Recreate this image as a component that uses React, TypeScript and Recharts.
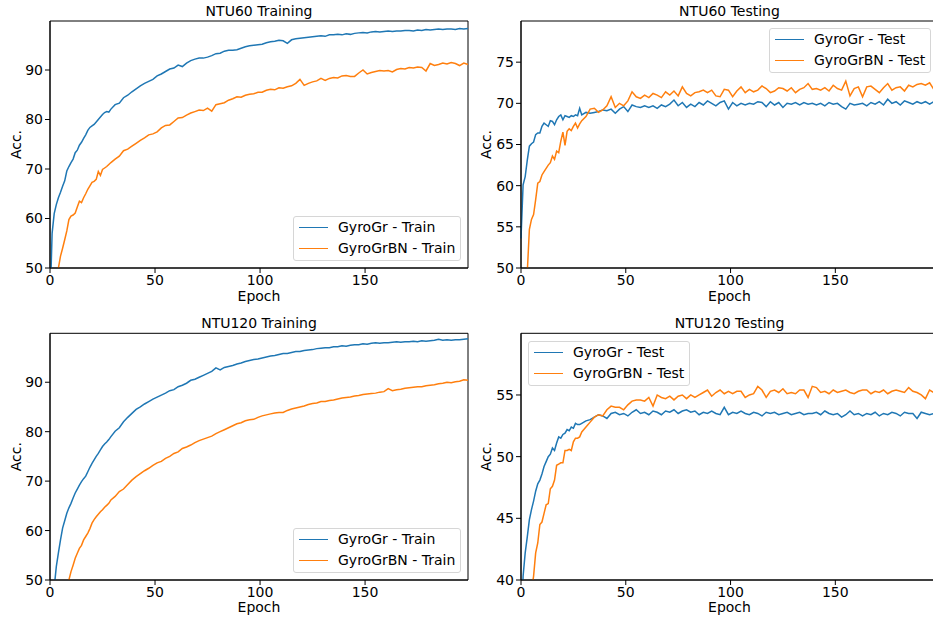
import { LineChart, Line, XAxis, YAxis, ReferenceArea, Legend } from "recharts";

const BLUE = "#1f77b4";
const ORANGE = "#ff7f0e";
const FONT = "DejaVu Sans";
const FS = 14;

// epochs: every epoch up to 29, then every other epoch
const epochs = [
  0, 1, 2, 3, 4, 5, 6, 7, 8, 9, 10, 11, 12, 13, 14, 15, 16, 17, 18, 19,
  20, 21, 22, 23, 24, 25, 26, 27, 28, 29,
  31, 33, 35, 37, 39, 41, 43, 45, 47, 49, 51, 53, 55, 57, 59, 61, 63, 65, 67, 69,
  71, 73, 75, 77, 79, 81, 83, 85, 87, 89, 91, 93, 95, 97, 99, 101, 103, 105, 107, 109,
  111, 113, 115, 117, 119, 121, 123, 125, 127, 129, 131, 133, 135, 137, 139, 141, 143, 145, 147, 149,
  151, 153, 155, 157, 159, 161, 163, 165, 167, 169, 171, 173, 175, 177, 179, 181, 183, 185, 187, 189,
  191, 193, 195, 197, 199,
];

const xTicks = [0, 50, 100, 150];
const trainTicks = [50, 60, 70, 80, 90];
const ntu60TestTicks = [50, 55, 60, 65, 70, 75];
const ntu120TestTicks = [40, 45, 50, 55];

const ntu60TrainGyroGr = [
  42, 57.0, 61.0, 62.8, 64.2, 65.3, 66.5, 67.6, 69.6, 70.5,
  71.3, 72.0, 73.3, 73.8, 74.8, 75.4, 76.2, 76.9, 77.8, 78.4,
  78.7, 79.0, 79.5, 80.0, 80.5, 81.0, 81.4, 81.6, 81.5, 82.1,
  83.0, 83.3, 84.4, 84.9, 85.6, 86.2, 86.8, 87.3, 87.7, 88.1,
  88.8, 89.2, 89.7, 90.2, 90.4, 91.0, 90.7, 91.4, 91.9, 92.2,
  92.4, 92.4, 92.6, 92.9, 93.3, 93.4, 93.8, 94.0, 94.0, 94.1,
  94.4, 94.7, 94.9, 95.0, 95.1, 95.2, 95.5, 95.7, 95.8, 96.0,
  95.9, 95.4, 96.1, 96.3, 96.4, 96.5, 96.6, 96.7, 96.8, 96.9,
  96.8, 97.1, 97.1, 97.2, 97.1, 97.3, 97.2, 97.4, 97.5, 97.6,
  97.5, 97.7, 97.8, 97.7, 97.8, 97.9, 97.8, 97.9, 97.9, 98.0,
  98.0, 97.9, 98.1, 98.0, 98.2, 98.1, 98.2, 98.3, 98.2, 98.3,
  98.3, 98.2, 98.4, 98.3, 98.4,
];
const ntu60TrainGyroGrBN = [
  30, 35, 40, 45, 50.0, 52.4, 54.0, 55.7, 57.5, 59.8,
  60.5, 60.7, 61.1, 62.3, 63.5, 63.2, 64.2, 65.0, 65.9, 66.6,
  67.3, 67.5, 67.9, 69.5, 68.7, 69.9, 70.2, 70.5, 70.9, 71.3,
  72.0, 72.6, 73.7, 74.0, 74.6, 75.2, 75.8, 76.3, 76.9, 77.1,
  77.5, 78.3, 78.8, 78.9, 79.6, 80.3, 80.4, 80.9, 81.3, 81.6,
  81.9, 81.8, 82.3, 81.7, 83.0, 83.2, 83.4, 83.9, 84.2, 84.6,
  84.5, 84.9, 85.1, 85.2, 85.5, 85.5, 85.9, 86.1, 86.0, 86.4,
  86.3, 86.6, 86.8, 87.3, 88.1, 86.9, 87.3, 87.6, 87.8, 88.3,
  87.9, 88.3, 88.5, 88.4, 88.8, 88.9, 88.7, 88.7, 89.4, 90.0,
  89.2, 89.5, 89.7, 89.9, 89.8, 89.9, 89.6, 90.1, 90.3, 90.2,
  90.5, 90.4, 90.6, 90.5, 89.8, 91.3, 90.9, 91.1, 91.4, 91.2,
  91.5, 91.3, 90.9, 91.4, 91.1,
];

const ntu60TestGyroGr = [
  53.6, 60.1, 61.1, 63.1, 64.8, 65.1, 65.3, 66.2, 66.4, 66.4,
  67.2, 67.6, 67.4, 67.2, 67.9, 67.8, 67.4, 68.0, 68.4, 68.6,
  68.0, 68.5, 68.4, 68.3, 68.5, 68.4, 68.6, 68.5, 69.4, 68.6,
  68.9, 68.8, 68.9, 69.0, 69.2, 69.1, 69.3, 68.8, 69.3, 69.6,
  69.0, 69.8, 69.6, 69.5, 69.7, 69.5, 69.7, 69.4, 69.8, 69.6,
  69.9, 70.4, 69.7, 70.1, 69.5, 69.9, 69.6, 70.1, 69.8, 70.3,
  70.0, 69.7, 70.1, 70.3, 69.3, 70.1, 69.7, 70.0, 69.8, 70.0,
  69.9, 70.2, 70.1, 69.6, 70.2, 69.8, 70.1, 69.5, 70.0, 69.9,
  70.1, 69.8, 70.1, 69.9, 70.0, 69.8, 70.0, 69.7, 70.1, 69.9,
  70.0, 69.6, 69.3, 70.0, 69.8, 69.9, 70.0, 69.7, 70.1, 69.9,
  70.2, 69.8, 70.5, 70.0, 70.2, 69.8, 70.3, 70.1, 69.9, 70.2,
  70.0, 70.2, 69.9, 70.2, 70.0,
];
const ntu60TestGyroGrBN = [
  40, 43, 46, 49.5, 54.7, 55.9, 56.5, 58.3, 60.3, 60.5,
  61.3, 61.7, 62.1, 62.5, 62.8, 63.6, 63.2, 64.2, 64.0, 65.4,
  66.5, 64.9, 66.6, 66.9, 66.7, 67.2, 67.6, 67.0, 67.5, 67.9,
  68.4, 69.3, 69.4, 68.9, 69.2, 69.7, 70.8, 69.5, 70.0, 69.7,
  70.3, 71.4, 70.8, 70.6, 71.0, 70.7, 71.2, 71.0, 70.7, 71.4,
  71.0, 71.5, 70.9, 72.0, 71.2, 70.9, 71.3, 71.4, 71.6, 71.3,
  71.6, 70.9, 70.8, 71.7, 71.6, 70.8, 71.5, 72.0, 71.3, 71.7,
  71.4, 71.6, 72.1, 71.8, 71.3, 71.5, 71.9, 71.8, 71.5, 71.9,
  71.3, 71.7, 71.9, 72.4, 71.7, 71.8, 71.6, 71.9, 71.5, 72.2,
  71.8, 71.6, 72.7, 70.9, 71.8, 72.0, 70.8, 72.0, 72.1, 71.7,
  71.3, 71.9, 72.4, 71.6, 71.9, 72.0, 71.5, 72.2, 72.0, 72.3,
  72.4, 72.2, 72.5, 71.7, 72.4,
];

const ntu120TrainGyroGr = [
  35, 40, 48.5, 52.7, 55.5, 58.1, 60.5, 62.0, 63.5, 64.6,
  65.5, 66.6, 67.6, 68.4, 69.2, 69.9, 70.5, 71.0, 71.9, 72.8,
  73.6, 74.3, 75.0, 75.6, 76.3, 77.0, 77.5, 77.9, 78.4, 79.0,
  80.1, 80.8, 82.0, 82.9, 83.7, 84.5, 85.0, 85.6, 86.1, 86.6,
  87.0, 87.4, 87.8, 88.3, 88.5, 89.1, 89.4, 89.8, 90.4, 90.6,
  91.0, 91.4, 91.8, 92.2, 92.9, 92.5, 93.0, 93.2, 93.4, 93.7,
  93.9, 94.2, 94.4, 94.6, 94.7, 94.9, 95.1, 95.3, 95.4, 95.6,
  95.8, 95.8, 96.0, 96.2, 96.2, 96.4, 96.5, 96.6, 96.8, 96.9,
  97.0, 97.0, 97.2, 97.2, 97.4, 97.3, 97.5, 97.6, 97.6, 97.8,
  97.7, 97.9, 98.0, 97.9, 98.0, 98.0, 98.1, 98.2, 98.1, 98.2,
  98.2, 98.3, 98.2, 98.4, 98.3, 98.4, 98.5, 98.7, 98.5, 98.6,
  98.5, 98.6, 98.6, 98.7, 98.8,
];
const ntu120TrainGyroGrBN = [
  30, 33, 36, 39, 41, 43, 45, 46.5, 48.2, 50.0,
  51.7, 53.0, 54.4, 55.4, 56.4, 57.0, 58.1, 58.8, 59.5, 60.4,
  61.5, 62.2, 62.8, 63.3, 63.8, 64.2, 64.7, 65.1, 65.5, 66.2,
  66.9, 67.9, 68.4, 69.3, 70.2, 70.9, 71.5, 72.1, 72.6, 73.2,
  73.7, 74.0, 74.6, 75.0, 75.6, 75.9, 76.6, 76.9, 77.3, 77.8,
  78.2, 78.5, 78.8, 79.1, 79.6, 80.0, 80.4, 80.8, 81.2, 81.6,
  81.8, 82.2, 82.4, 82.5, 82.9, 83.2, 83.4, 83.6, 83.8, 83.9,
  83.9, 84.3, 84.6, 84.8, 85.0, 85.2, 85.5, 85.7, 85.8, 86.1,
  86.1, 86.3, 86.4, 86.6, 86.8, 86.9, 87.0, 87.2, 87.3, 87.5,
  87.6, 87.7, 87.8, 88.0, 88.1, 88.7, 88.3, 88.5, 88.6, 88.8,
  88.9, 89.0, 89.1, 89.1, 89.3, 89.4, 89.5, 89.7, 89.8, 90.0,
  89.9, 90.1, 90.2, 90.5, 90.4,
];

const ntu120TestGyroGr = [
  36, 40.3, 42.2, 43.5, 44.9, 45.7, 46.4, 47.2, 47.8, 48.1,
  48.6, 49.2, 49.6, 50.0, 50.2, 50.7, 50.5, 51.1, 51.6, 51.5,
  51.8, 51.9, 52.2, 52.1, 52.4, 52.3, 52.7, 52.6, 52.6, 52.7,
  52.9, 53.0, 53.2, 53.4, 53.3, 53.1, 53.5, 53.6, 53.4, 53.5,
  53.3, 53.6, 53.8, 53.5, 53.6, 53.4, 53.7, 53.6, 53.4, 53.7,
  53.6, 53.8, 53.5, 53.7, 53.8, 53.6, 53.7, 53.4, 53.6, 53.5,
  53.7, 53.5, 53.4, 54.0, 53.4, 53.6, 53.5, 53.7, 53.5, 53.4,
  53.6, 53.5, 53.3, 53.6, 53.5, 53.6, 53.4, 53.5, 53.6, 53.4,
  53.5, 53.6, 53.4, 53.5, 53.5, 53.6, 53.4, 53.7, 53.5, 53.4,
  53.5, 53.2, 53.4, 53.7, 53.4, 53.5, 53.3, 53.5, 53.4, 53.6,
  53.3, 53.5, 53.4, 53.6, 53.5, 53.3, 53.6, 53.5, 53.5, 53.1,
  53.6, 53.5, 53.4, 53.5, 53.5,
];
const ntu120TestGyroGrBN = [
  30, 32, 34, 36, 38, 39.2, 40.3, 42.2, 43.0, 44.5,
  44.7, 45.4, 46.1, 46.2, 47.4, 47.6, 48.1, 49.3, 49.4, 49.5,
  49.5, 50.5, 50.5, 50.6, 50.5, 51.2, 51.5, 51.5, 51.6, 52.0,
  52.4, 52.8, 53.2, 53.4, 53.3, 53.8, 54.1, 54.0, 54.0, 53.8,
  54.2, 54.5, 54.6, 54.6, 54.5, 54.8, 54.1, 55.0, 54.8, 54.7,
  54.9, 54.6, 54.9, 55.0, 54.7, 55.0, 54.8, 55.0, 55.2, 55.4,
  54.9, 55.2, 55.4, 55.1, 55.3, 55.1, 55.3, 55.3, 54.8, 55.0,
  55.1, 55.7, 55.4, 54.8, 55.3, 55.4, 55.2, 55.5, 55.1, 55.2,
  55.1, 55.4, 55.4, 54.8, 55.7, 55.6, 55.2, 55.3, 55.1, 55.4,
  55.2, 55.3, 55.4, 55.2, 55.1, 55.3, 55.4, 55.4, 55.1, 55.3,
  55.2, 55.4, 55.1, 55.3, 55.4, 55.3, 55.2, 55.6, 55.3, 55.2,
  55.0, 54.7, 55.4, 55.2, 55.1,
];

const buildRows = (blue: number[], orange: number[]) =>
  epochs.map((epoch, i) => ({ epoch, blue: blue[i], orange: orange[i] }));

const tickStyle = { fill: "#000", fontSize: FS, fontFamily: FONT };

function MplLegend({ payload }: any) {
  return (
    <div
      style={{
        border: "1px solid #d6d6d6",
        borderRadius: 3,
        background: "rgba(255,255,255,0.8)",
        padding: "0 5px 2px 5px",
        fontFamily: FONT,
        fontSize: FS,
        color: "#000",
        whiteSpace: "nowrap",
      }}
    >
      {(payload || []).map((p: any) => (
        <div
          key={p.value}
          style={{ display: "flex", alignItems: "center", height: 20.7, lineHeight: "20.7px" }}
        >
          <span style={{ display: "inline-block", width: 29, borderTop: `1.5px solid ${p.color}`, marginRight: 10 }} />
          <span>{p.value}</span>
        </div>
      ))}
    </div>
  );
}

type PanelProps = {
  left: number;
  top: number;
  title: string;
  titleBaseline: number;
  marginTop: number;
  xAxisHeight: number;
  epochOffset: number;
  yWidth: number;
  plotWidth: number;
  yDomain: [number, number];
  yTicks: number[];
  blue: number[];
  orange: number[];
  names: [string, string];
  legendLeft: number;
  legendTop: number;
};

function Panel(p: PanelProps) {
  const W = 470;
  const H = 310;
  const rows = buildRows(p.blue, p.orange);
  const right = W - p.yWidth - p.plotWidth;
  return (
    <div style={{ position: "absolute", left: p.left, top: p.top, width: W, height: H }}>
      <LineChart
        width={W}
        height={H}
        data={rows}
        margin={{ top: p.marginTop, right, bottom: 0, left: 0 }}
      >
        <XAxis
          dataKey="epoch"
          type="number"
          domain={[0, 199]}
          ticks={xTicks}
          interval={0}
          height={p.xAxisHeight}
          tickSize={5}
          tickMargin={2}
          tick={tickStyle}
          axisLine={{ stroke: "#000" }}
          tickLine={{ stroke: "#000" }}
          label={{
            value: "Epoch",
            position: "insideBottom",
            offset: p.epochOffset,
            fill: "#000",
            fontSize: FS,
            fontFamily: FONT,
          }}
        />
        <YAxis
          type="number"
          domain={p.yDomain}
          allowDataOverflow
          ticks={p.yTicks}
          interval={0}
          width={p.yWidth}
          tickSize={5}
          tickMargin={2}
          tick={tickStyle}
          axisLine={{ stroke: "#000" }}
          tickLine={{ stroke: "#000" }}
          label={{
            value: "Acc.",
            angle: -90,
            position: "insideLeft",
            offset: 15.7,
            fill: "#000",
            fontSize: FS,
            fontFamily: FONT,
            style: { textAnchor: "middle" },
          }}
        />
        <ReferenceArea
          x1={0}
          x2={199}
          y1={p.yDomain[0]}
          y2={p.yDomain[1]}
          fill="none"
          stroke="#000"
          strokeWidth={1}
          ifOverflow="visible"
        />
        <Line
          type="linear"
          dataKey="blue"
          name={p.names[0]}
          stroke={BLUE}
          strokeWidth={1.5}
          dot={false}
          isAnimationActive={false}
        />
        <Line
          type="linear"
          dataKey="orange"
          name={p.names[1]}
          stroke={ORANGE}
          strokeWidth={1.5}
          dot={false}
          isAnimationActive={false}
        />
        <Legend
          layout="vertical"
          align="center"
          verticalAlign="middle"
          content={<MplLegend />}
          wrapperStyle={{ left: p.legendLeft, top: p.legendTop, width: "auto" }}
        />
      </LineChart>
      <svg
        width={W}
        height={30}
        style={{ position: "absolute", left: 0, top: 0, pointerEvents: "none" }}
      >
        <text
          x={p.yWidth + p.plotWidth / 2}
          y={p.titleBaseline}
          textAnchor="middle"
          fontFamily={FONT}
          fontSize={FS}
          fill="#000"
        >
          {p.title}
        </text>
      </svg>
    </div>
  );
}

export default function App() {
  return (
    <div
      style={{
        position: "absolute",
        left: 0,
        top: 0,
        width: 933,
        height: 620,
        overflow: "hidden",
        background: "#fff",
      }}
    >
      <Panel
        left={0}
        top={0}
        title="NTU60 Training"
        titleBaseline={16}
        marginTop={21}
        xAxisHeight={42}
        epochOffset={9}
        yWidth={50}
        plotWidth={418}
        yDomain={[50, 99.9]}
        yTicks={trainTicks}
        blue={ntu60TrainGyroGr}
        orange={ntu60TrainGyroGrBN}
        names={["GyroGr - Train", "GyroGrBN - Train"]}
        legendLeft={293}
        legendTop={216}
      />
      <Panel
        left={470}
        top={0}
        title="NTU60 Testing"
        titleBaseline={16}
        marginTop={21}
        xAxisHeight={42}
        epochOffset={9}
        yWidth={51}
        plotWidth={417}
        yDomain={[50, 80]}
        yTicks={ntu60TestTicks}
        blue={ntu60TestGyroGr}
        orange={ntu60TestGyroGrBN}
        names={["GyroGr - Test", "GyroGrBN - Test"]}
        legendLeft={299}
        legendTop={28}
      />
      <Panel
        left={0}
        top={310}
        title="NTU120 Training"
        titleBaseline={18.3}
        marginTop={23.3}
        xAxisHeight={40}
        epochOffset={8}
        yWidth={50}
        plotWidth={418}
        yDomain={[50, 99.9]}
        yTicks={trainTicks}
        blue={ntu120TrainGyroGr}
        orange={ntu120TrainGyroGrBN}
        names={["GyroGr - Train", "GyroGrBN - Train"]}
        legendLeft={293}
        legendTop={218}
      />
      <Panel
        left={470}
        top={310}
        title="NTU120 Testing"
        titleBaseline={18.3}
        marginTop={23.3}
        xAxisHeight={40}
        epochOffset={8}
        yWidth={51}
        plotWidth={417}
        yDomain={[40, 60]}
        yTicks={ntu120TestTicks}
        blue={ntu120TestGyroGr}
        orange={ntu120TestGyroGrBN}
        names={["GyroGr - Test", "GyroGrBN - Test"]}
        legendLeft={58}
        legendTop={31}
      />
    </div>
  );
}
